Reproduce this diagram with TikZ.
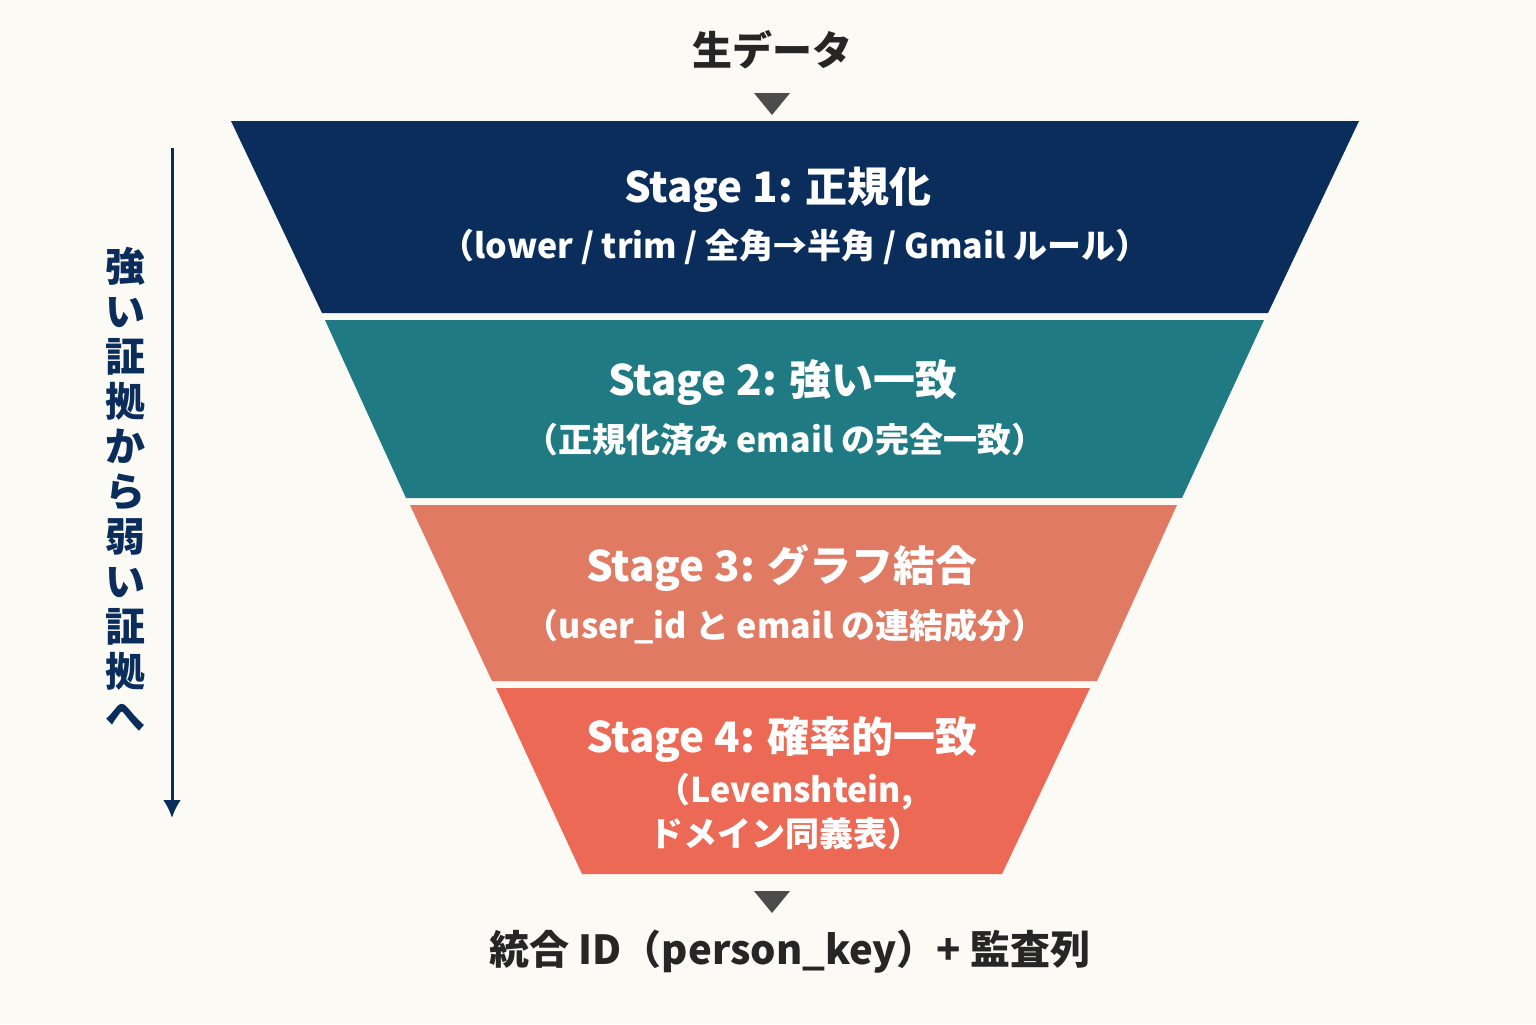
\documentclass[tikz,border=0pt]{standalone}
\usepackage{fontspec}
\usetikzlibrary{arrows.meta}
\setmainfont{Noto Sans CJK JP}
\begin{document}
\begin{tikzpicture}[x=0.5pt,y=-0.5pt,
  ttl/.style={text=white,font=\bfseries\fontsize{21}{25}\selectfont},
  sub/.style={text=white,font=\bfseries\fontsize{17}{22}\selectfont,align=center},
  lbl/.style={text=black!85,font=\bfseries\fontsize{20}{24}\selectfont},
  tri/.style={fill=black!70}]
\fill[fill={rgb,255:red,251;green,250;blue,245}] (0,0) rectangle (1536,1024);
\useasboundingbox (0,0) rectangle (1536,1024);
\definecolor{c1}{HTML}{0B2D5B}\definecolor{c2}{HTML}{1F7A84}
\definecolor{c3}{HTML}{E07A62}\definecolor{c4}{HTML}{EC6A55}
\fill[c1] (231,121)--(1359,121)--(1268,313)--(322,313)--cycle;
\fill[c2] (325,320)--(1264,320)--(1182,498)--(406,498)--cycle;
\fill[c3] (410,505)--(1177,505)--(1097,681)--(492,681)--cycle;
\fill[c4] (496,688)--(1090,688)--(1002,874)--(582,874)--cycle;
\node[lbl] (raw) at (772,50) {生データ};
\fill[tri] (754,93)--(790,93)--(772,115)--cycle;
\node[ttl] (s1) at (778,190) {Stage 1: 正規化};
\node[sub] (s1b) at (795,247) {（lower / trim / 全角→半角 / Gmail ルール）};
\node[ttl] (s2) at (783,383) {Stage 2: 強い一致};
\node[sub] (s2b) at (785,440) {（正規化済み email の完全一致）};
\node[ttl] (s3) at (782,568) {Stage 3: グラフ結合};
\node[sub] (s3b) at (785,626) {（user\_id と email の連結成分）};
\node[ttl] (s4) at (782,740) {Stage 4: 確率的一致};
\node[sub] (s4b) at (785,812) {（Levenshtein,\\ドメイン同義表）};
\fill[tri] (754,891)--(790,891)--(772,913)--cycle;
\node[lbl] (out) at (790,952) {統合 ID（person\_key）+ 監査列};
\coordinate (a0) at (172,148); \coordinate (a1) at (172,818);
\draw[c1,line width=1.5pt,-{Latex[length=9pt,width=9pt]}] (a0)--(a1);
\node[text=c1,font=\bfseries\fontsize{20}{22.5}\selectfont,align=center,anchor=north] (side) at (125,240)
 {強\\い\\証\\拠\\か\\ら\\弱\\い\\証\\拠\\へ};
\end{tikzpicture}
\end{document}
